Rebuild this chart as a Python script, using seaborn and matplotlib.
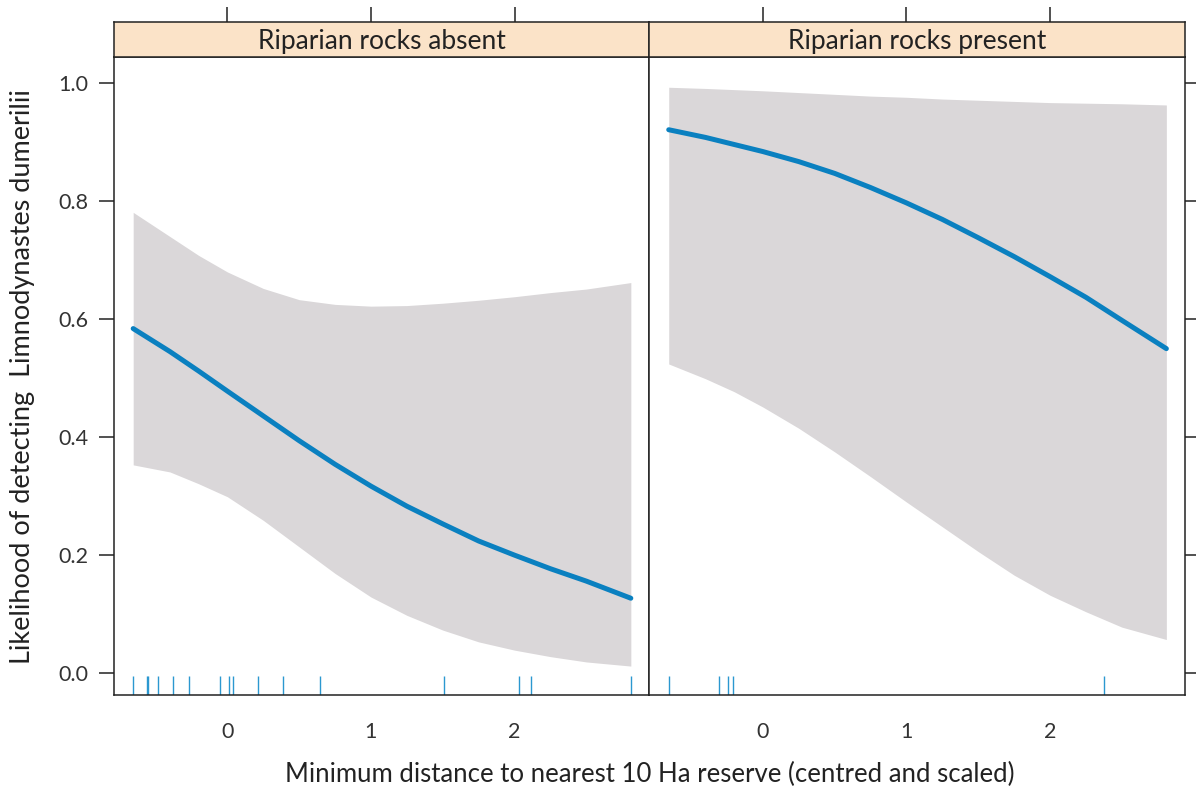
import pandas as pd
import matplotlib
matplotlib.use("Agg")
import matplotlib.pyplot as plt
import seaborn as sns

# values
panels = ["Riparian rocks absent", "Riparian rocks present"]

fit_x = [-0.656, -0.4, -0.2, 0.0, 0.25, 0.5, 0.75, 1.0, 1.25, 1.5, 1.75, 2.0, 2.25, 2.5, 2.81]

absent_fit = [0.584, 0.545, 0.512, 0.478, 0.436, 0.394, 0.354, 0.317, 0.283,
              0.253, 0.224, 0.200, 0.177, 0.156, 0.127]
absent_upper = [0.781, 0.740, 0.708, 0.680, 0.652, 0.633, 0.625, 0.622, 0.623,
                0.627, 0.632, 0.638, 0.645, 0.651, 0.662]
absent_lower = [0.353, 0.341, 0.321, 0.299, 0.259, 0.214, 0.169, 0.129, 0.098,
                0.073, 0.053, 0.039, 0.028, 0.019, 0.012]

present_fit = [0.921, 0.908, 0.896, 0.884, 0.867, 0.847, 0.823, 0.797, 0.769,
               0.738, 0.706, 0.672, 0.637, 0.598, 0.550]
present_upper = [0.993, 0.991, 0.989, 0.987, 0.984, 0.981, 0.978, 0.976, 0.973,
                 0.971, 0.969, 0.967, 0.966, 0.965, 0.963]
present_lower = [0.524, 0.499, 0.477, 0.451, 0.415, 0.375, 0.333, 0.290, 0.248,
                 0.206, 0.166, 0.132, 0.104, 0.078, 0.057]

absent_rug = [-0.654, -0.563, -0.553, -0.481, -0.376, -0.265, -0.049, 0.014, 0.038,
              0.211, 0.384, 0.648, 1.509, 2.033, 2.114, 2.811]
present_rug = [-0.655, -0.309, -0.242, -0.208, 2.373]

fits = pd.concat([
    pd.DataFrame({"x": fit_x, "fit": absent_fit, "lo": absent_lower, "hi": absent_upper, "panel": panels[0]}),
    pd.DataFrame({"x": fit_x, "fit": present_fit, "lo": present_lower, "hi": present_upper, "panel": panels[1]}),
], ignore_index=True)
rugs = pd.concat([
    pd.DataFrame({"x": absent_rug, "panel": panels[0]}),
    pd.DataFrame({"x": present_rug, "panel": panels[1]}),
], ignore_index=True)

sns.set_style("white")
plt.rcParams["font.family"] = ["Lato", "DejaVu Sans"]

line_col = "#0a80c0"
rug_col = "#2b98d0"
band_col = "#dad7d9"
strip_col = "#fbe3c8"
ink = "#222222"

fig = plt.figure(figsize=(11.97, 7.94), dpi=100)
left, right, bottom, top = 0.0952, 0.990, 0.1247, 0.928
w = (right - left) / 2
strip_h = 0.0441

for i, name in enumerate(panels):
    ax = fig.add_axes([left + i * w, bottom, w, top - bottom])
    d = fits[fits["panel"] == name]
    ax.fill_between(d["x"], d["lo"], d["hi"], color=band_col, lw=0)
    sns.lineplot(data=d, x="x", y="fit", color=line_col, lw=3.6, ax=ax,
                 solid_capstyle="round")
    sns.rugplot(data=rugs[rugs["panel"] == name], x="x", height=0.03,
                color=rug_col, lw=2, ax=ax)
    ax.set_xlim(-0.79, 2.94)
    ax.set_ylim(-0.037, 1.044)
    ax.set_xticks([0, 1, 2])
    ax.set_yticks([0.0, 0.2, 0.4, 0.6, 0.8, 1.0])
    ax.set_xlabel("")
    ax.set_ylabel("")
    for s in ax.spines.values():
        s.set_linewidth(1.1)
        s.set_color(ink)
    ax.tick_params(axis="both", direction="out", length=10.5, width=1.1,
                   color=ink, labelsize=15.5, pad=9, labelcolor="#333333")
    if i == 0:
        ax.yaxis.set_major_formatter(matplotlib.ticker.FormatStrFormatter("%.1f"))
        ax.tick_params(axis="y", left=True, right=False, pad=8)
    else:
        ax.tick_params(axis="y", left=False, right=True, labelleft=False, length=8)

    # strip header with ticks on top
    sax = fig.add_axes([left + i * w, top, w, strip_h])
    sax.set_facecolor(strip_col)
    sax.set_xlim(-0.79, 2.94)
    sax.set_ylim(0, 1)
    sax.set_xticks([0, 1, 2])
    sax.set_yticks([])
    sax.tick_params(axis="x", bottom=False, top=True, labelbottom=False,
                    direction="out", length=10.5, width=1.1, color=ink)
    for s in sax.spines.values():
        s.set_linewidth(1.1)
        s.set_color(ink)
    sax.text(0.5, 0.45, name, transform=sax.transAxes, ha="center", va="center",
             fontsize=19, color=ink)

fig.text(0.543, 0.024, "Minimum distance to nearest 10 Ha reserve (centred and scaled)",
         ha="center", va="center", fontsize=18.5, color=ink)
fig.text(0.019, (bottom + top) / 2, "Likelihood of detecting  Limnodynastes dumerilii",
         ha="center", va="center", rotation=90, fontsize=19.5, color=ink)

fig.savefig("out.png", dpi=100)
plt.close(fig)
